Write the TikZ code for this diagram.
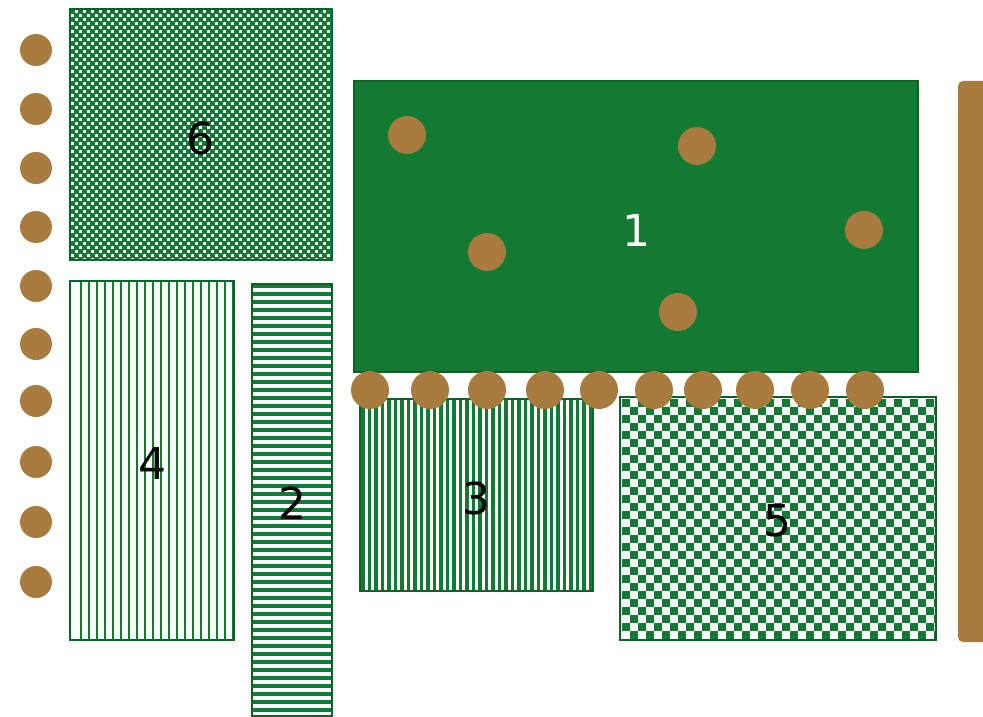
\documentclass[tikz,border=0pt]{standalone}
\usepackage{fontspec}
\setmainfont{DejaVu Sans}
\definecolor{gr}{HTML}{137A33}
\definecolor{grd}{HTML}{0D6228}
\definecolor{br}{HTML}{A87B3E}
\tikzset{
  dot/.style={circle,fill=br,draw=none,minimum size=38pt,inner sep=0pt},
  ldot/.style={circle,fill=br,draw=none,minimum size=32pt,inner sep=0pt},
  frame/.style={draw=grd,line width=2pt},
  lbl/.style={font=\fontsize{44}{44}\selectfont,inner sep=0pt},
}
\begin{document}
\begin{tikzpicture}[x=1pt,y=-1pt]
\useasboundingbox (0,0) rectangle (983,717);
% box 6 fine checker
\begin{scope}
\clip (70,9) rectangle (332,260);
\foreach \i in {0,...,65}{\foreach \j in {0,...,63}{
  \ifodd\numexpr\i+\j\relax\else \fill[gr] (70+\i*4,9+\j*4) rectangle ++(5,5);\fi
}}
\end{scope}
\draw[frame] (70,9) rectangle (332,260);
\node[lbl] (n6) at (200,138) {6};
% box 4 vertical lines
\begin{scope}
\clip (70,281) rectangle (234,640);
\foreach \k in {0,...,21}{\fill[gr] (79.5+\k*8,281) rectangle ++(2.6,359);}
\end{scope}
\draw[frame] (70,281) rectangle (234,640);
\node[lbl] (n4) at (152,463) {4};
% box 2 horizontal lines
\begin{scope}
\clip (252,284) rectangle (332,716);
\foreach \k in {0,...,55}{\fill[gr] (252,284+\k*8) rectangle ++(80,4.2);}
\end{scope}
\draw[frame] (252,284) rectangle (332,716);
\node[lbl] (n2) at (292,503) {2};
% box 3 vertical lines
\begin{scope}
\clip (360,399) rectangle (593,591);
\foreach \k in {0,...,36}{\fill[gr] (361+\k*6.5,399) rectangle ++(3.6,192);}
\end{scope}
\draw[frame] (360,399) rectangle (593,591);
\node[lbl] (n3) at (476,498) {3};
% box 5 checker
\begin{scope}
\clip (620,397) rectangle (936,640);
\foreach \i in {0,...,39}{\foreach \j in {0,...,30}{
  \ifodd\numexpr\i+\j\relax\else \fill[gr] (622+\i*8,399+\j*8) rectangle ++(8.4,8.4);\fi
}}
\end{scope}
\draw[frame] (620,397) rectangle (936,640);
\node[lbl] (n5) at (777,521) {5};
% box 1
\draw[frame,fill=gr] (354,81) rectangle (918,372);
\node[lbl,text=white] (n1) at (636,230) {1};
% brown bar
\fill[br,rounded corners=5pt] (958,81) rectangle (990,642);
% left circles
\foreach \y [count=\c] in {50,109,168,227,286,344,401,462,522,582}{
  \node[ldot] (l\c) at (36,\y) {};
}
% bottom row circles
\foreach \x [count=\c] in {370,430,487,545,599,654,703,755,810,865}{
  \node[dot] (b\c) at (\x,390) {};
}
% circles inside box 1
\node[dot] (i1) at (407,135) {};
\node[dot] (i2) at (697,146) {};
\node[dot] (i3) at (487,252) {};
\node[dot] (i4) at (864,230) {};
\node[dot] (i5) at (678,312) {};
\end{tikzpicture}
\end{document}
